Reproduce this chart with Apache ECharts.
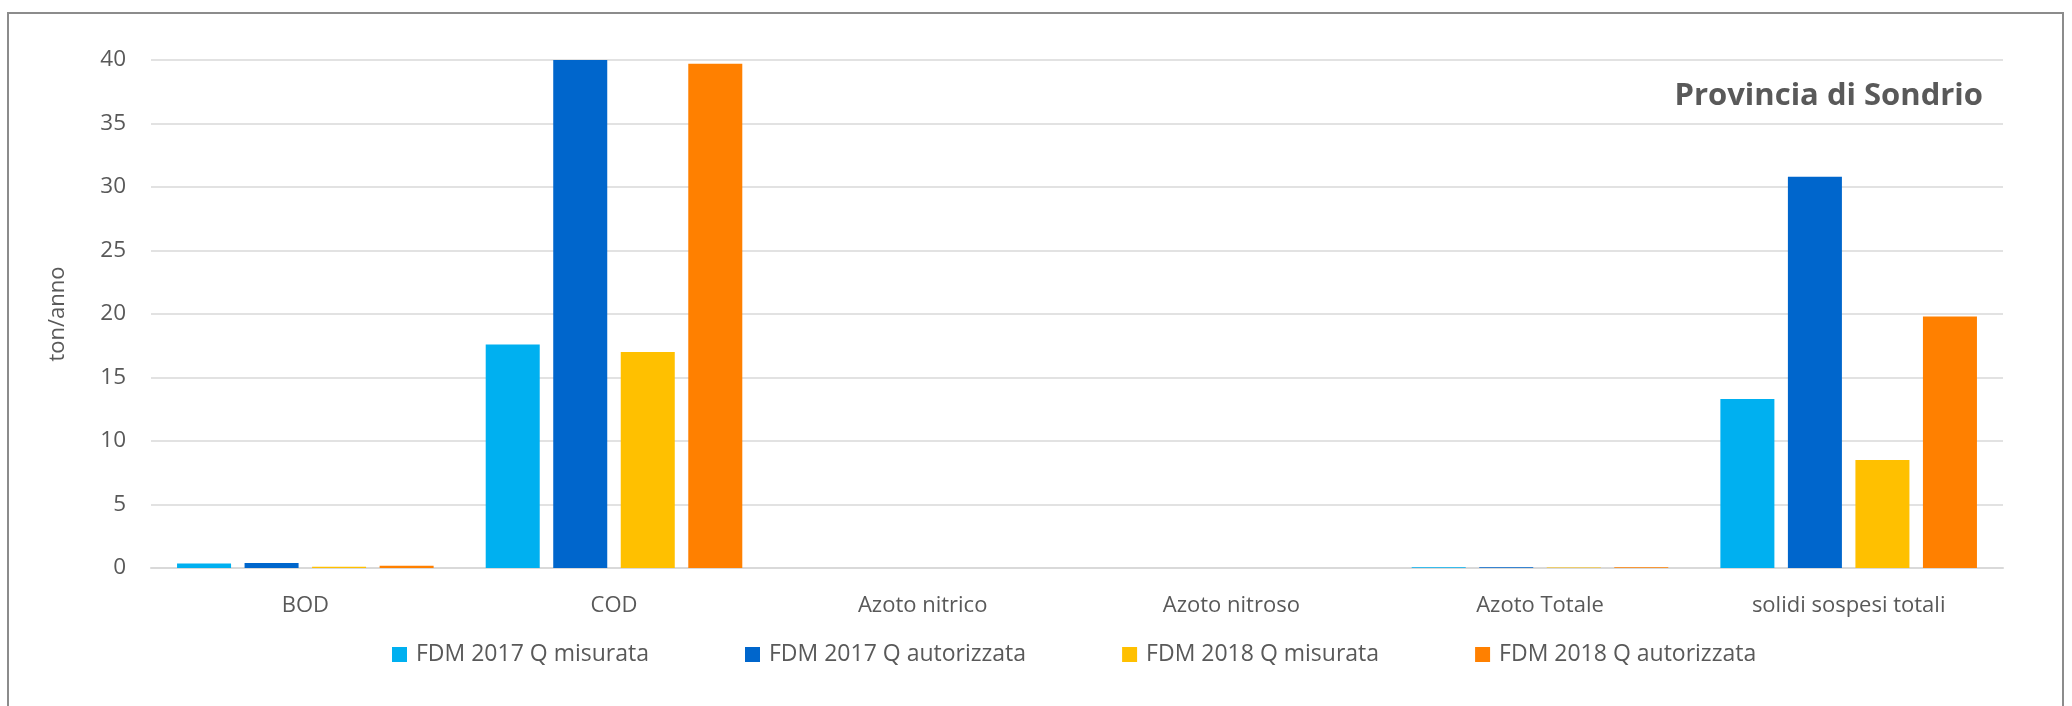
<!DOCTYPE html>
<html>
<head>
<meta charset="utf-8">
<title>Provincia di Sondrio</title>
<script src="https://cdn.jsdelivr.net/npm/echarts@6/dist/echarts.min.js"></script>
<style>
  html, body { margin: 0; padding: 0; background: #fff; }
  #chart { width: 2072px; height: 706px; }
</style>
</head>
<body>
<div id="chart"></div>
<script>
// Categories on the x axis
const categories = ["BOD", "COD", "Azoto nitrico", "Azoto nitroso", "Azoto Totale", "solidi sospesi totali"];

// Series names and values (ton/anno)
const seriesNames = ["FDM 2017 Q misurata", "FDM 2017 Q autorizzata", "FDM 2018 Q misurata", "FDM 2018 Q autorizzata"];
const fdm2017Misurata = [0.35, 17.6, 0, 0, 0.06, 13.3];
const fdm2017Autorizzata = [0.4, 40.0, 0, 0, 0.06, 30.8];
const fdm2018Misurata = [0.1, 17.0, 0, 0, 0.04, 8.5];
const fdm2018Autorizzata = [0.18, 39.7, 0, 0, 0.06, 19.8];

const seriesColors = ["#00B0F0", "#0066CC", "#FFC000", "#FF8000"];
const textColor = "#595959";
const fontName = "Open Sans";

const chart = echarts.init(document.getElementById("chart"));

const seriesValues = [fdm2017Misurata, fdm2017Autorizzata, fdm2018Misurata, fdm2018Autorizzata];

const option = {
  animation: false,
  backgroundColor: "#fff",
  textStyle: { fontFamily: fontName, color: textColor },
  title: {
    text: "Provincia di Sondrio",
    right: 84,
    top: 76,
    textStyle: {
      fontFamily: fontName,
      fontSize: 31,
      fontWeight: "bold",
      color: textColor,
    },
  },
  legend: {
    bottom: 35,
    left: 387,
    itemWidth: 15,
    itemHeight: 15,
    itemGap: 96,
    icon: "rect",
    textStyle: { fontFamily: fontName, fontSize: 23, color: textColor, padding: [0, 0, 0, 4] },
    data: seriesNames,
  },
  grid: {
    left: 151,
    right: 69,
    top: 60,
    bottom: 138,
    containLabel: false,
  },
  xAxis: {
    type: "category",
    data: categories,
    axisLine: { lineStyle: { color: "#D9D9D9", width: 2 } },
    axisTick: { show: false },
    axisLabel: { fontFamily: fontName, fontSize: 22, color: textColor, margin: 27 },
  },
  yAxis: {
    type: "value",
    min: 0,
    max: 40,
    interval: 5,
    name: "ton/anno",
    nameLocation: "middle",
    nameGap: 82,
    nameTextStyle: { fontFamily: fontName, fontSize: 22, color: textColor },
    axisLine: { show: false },
    axisTick: { show: false },
    axisLabel: { fontFamily: fontName, fontSize: 22.5, color: textColor, margin: 25 },
    splitLine: { lineStyle: { color: "#D9D9D9", width: 1.5 } },
  },
  graphic: [
    {
      type: "rect",
      shape: { x: 8, y: 13, width: 2055, height: 800 },
      style: { fill: "none", stroke: "#8C8C8C", lineWidth: 2 },
      silent: true,
    },
  ],
  series: seriesNames.map((name, i) => ({
    name: name,
    type: "bar",
    data: seriesValues[i],
    barWidth: "17.5%",
    barGap: "25%",
    itemStyle: { color: seriesColors[i] },
  })),
};

chart.setOption(option);
</script>
</body>
</html>
